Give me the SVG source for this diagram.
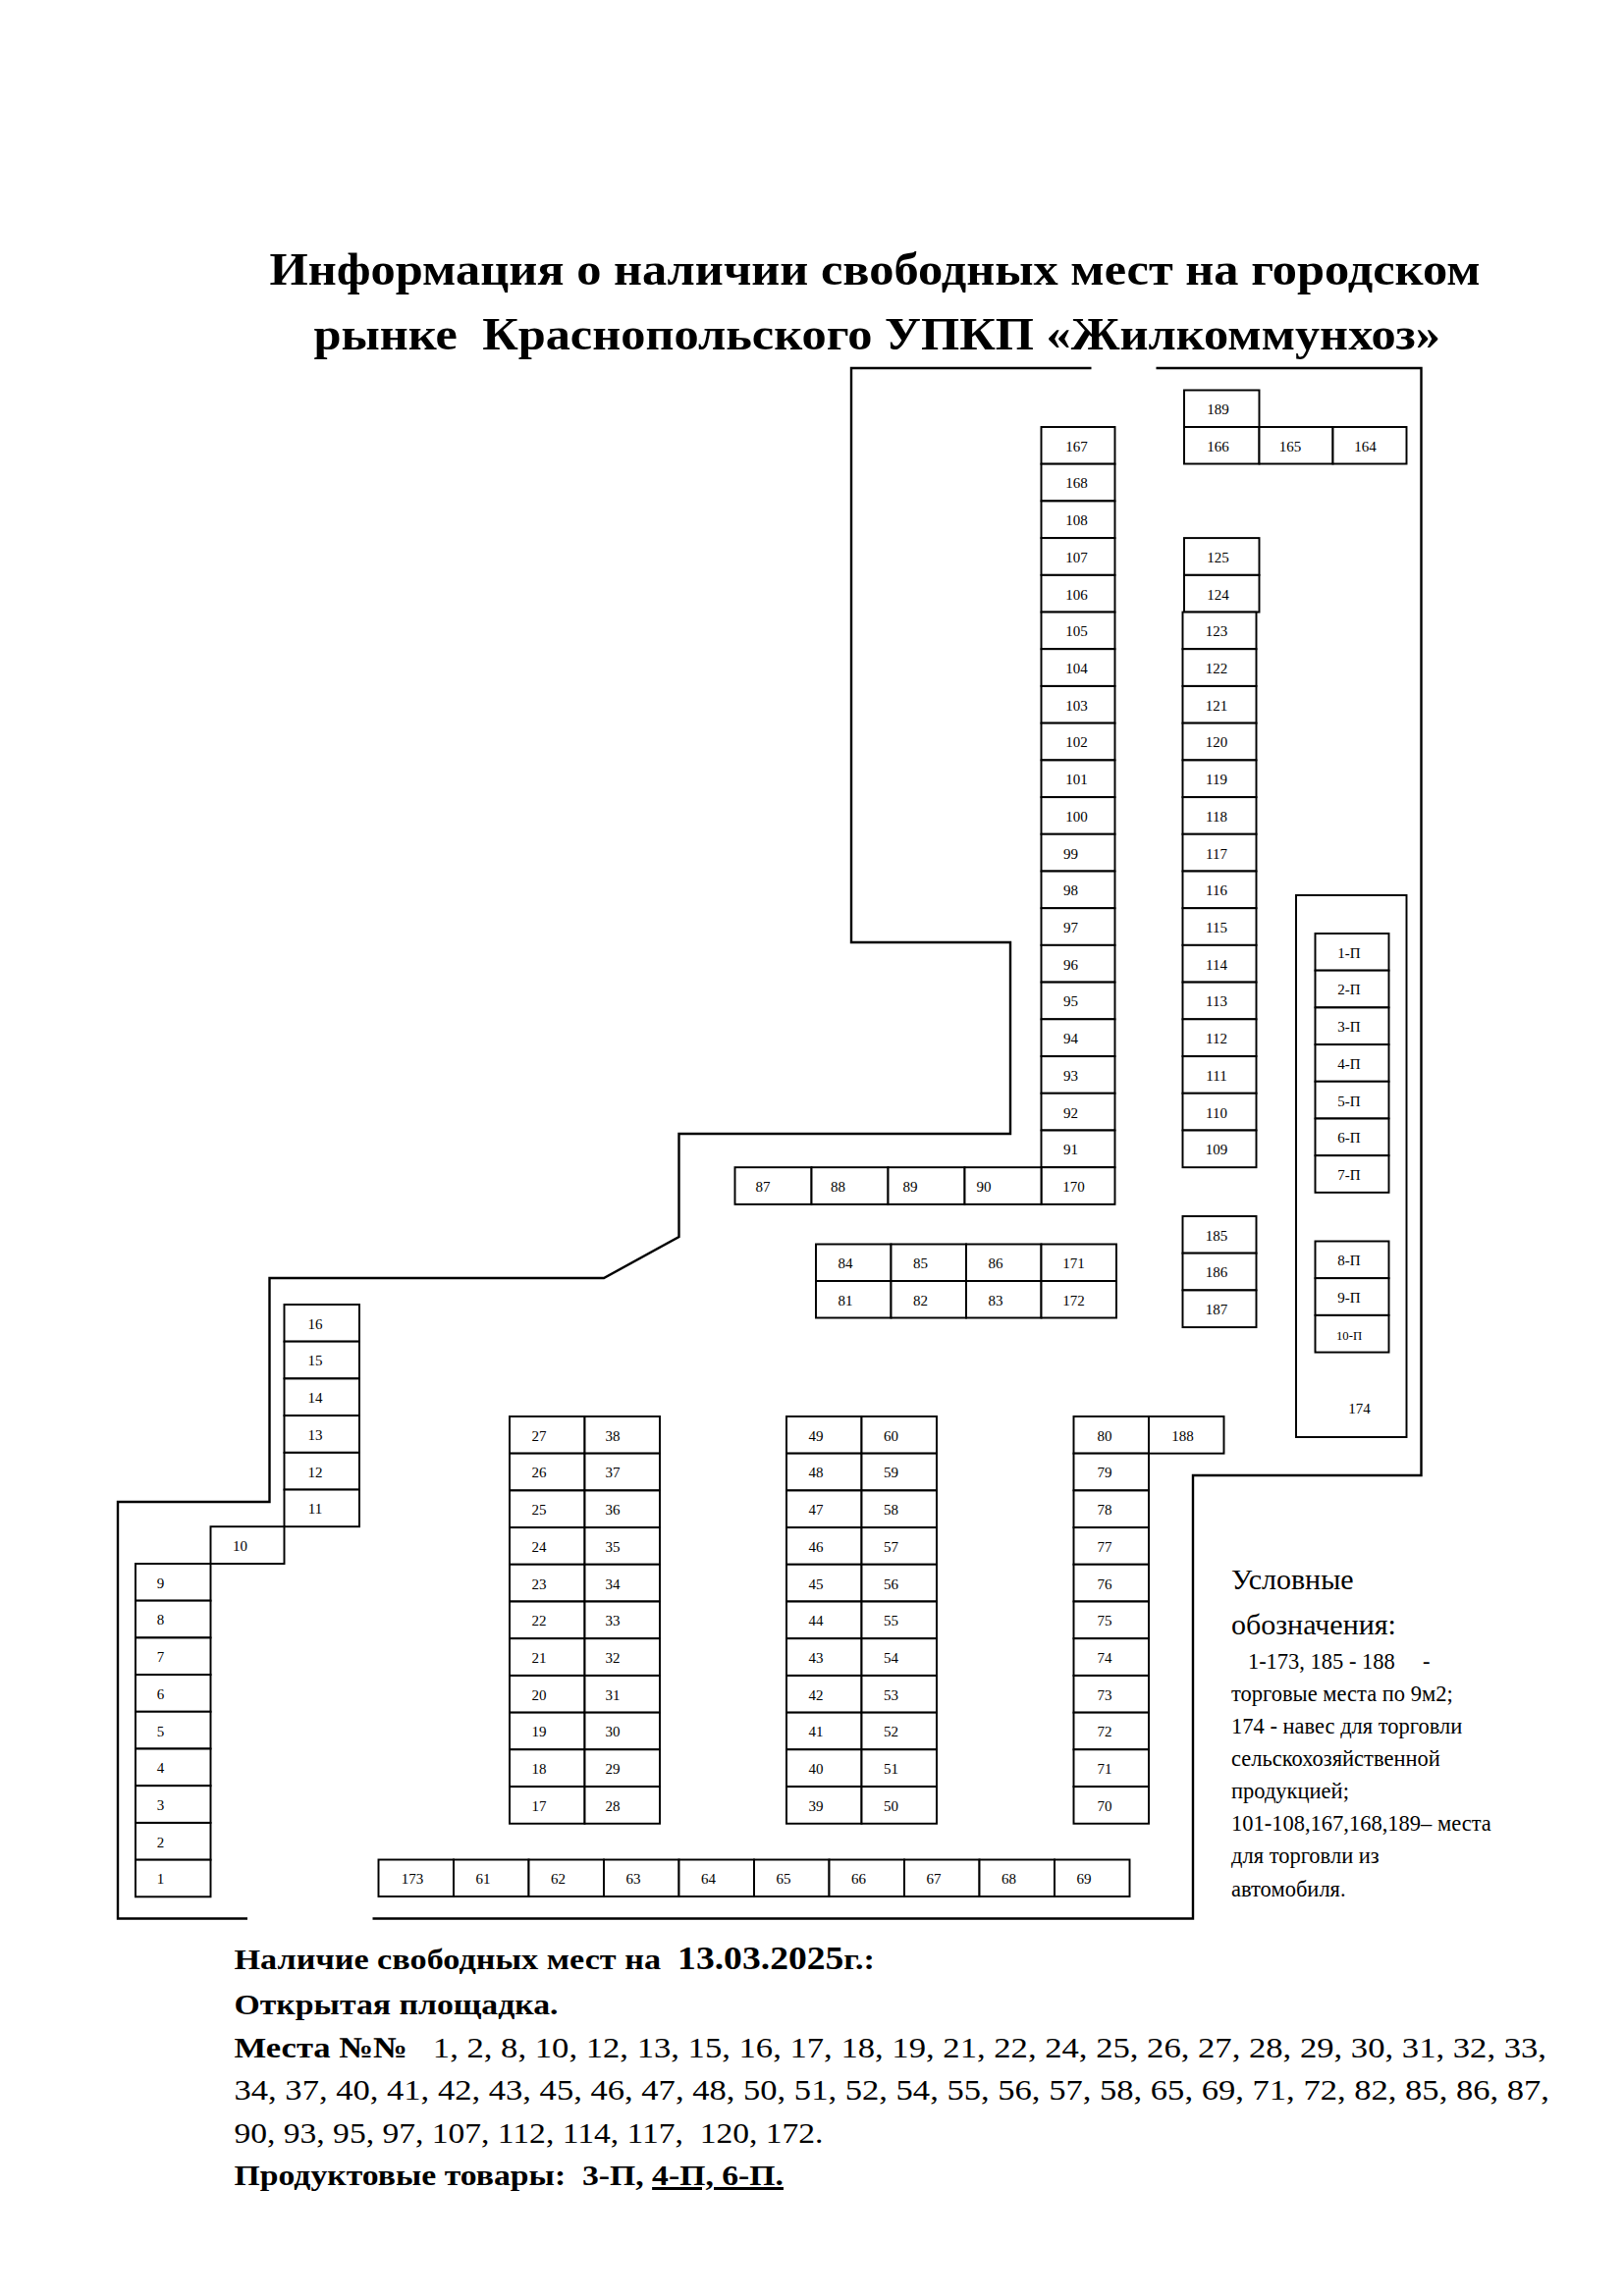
<svg xmlns="http://www.w3.org/2000/svg" width="1654" height="2339" viewBox="0 0 1654 2339">
<style>
rect{fill:#fff;stroke:#000;stroke-width:1.3}
.b{fill:none;stroke:#000;stroke-width:1.6}
text{font-family:"Liberation Serif",serif;fill:#000}
.t{font-size:10px;text-anchor:middle}
.h{font-size:31px;font-weight:bold}
.l{font-size:15px}
.p{font-size:20px}
</style>
<rect x="0" y="0" width="1654" height="2339" style="stroke:none"/>
<g transform="scale(1.5)">
<g id="title"><text class="h" x="183" y="193" textLength="822" lengthAdjust="spacingAndGlyphs">Информация о наличии свободных мест на городском</text><text class="h" x="213" y="237" textLength="765" lengthAdjust="spacingAndGlyphs" xml:space="preserve">рынке  Краснопольского УПКП «Жилкоммунхоз»</text></g>
<g id="boundary">
<polyline class="b" points="741,250 578,250 578,640 686,640 686,770 461,770 461,840 410,868 183,868 183,1020 80,1020 80,1303 168,1303"/>
<polyline class="b" points="253,1303 810,1303 810,1002 965,1002 965,250 785,250"/>
<rect x="880" y="608" width="75" height="368" style="fill:none"/>
<text class="t" x="923" y="960">174</text>
</g>
<g id="colA">
<g id="n167"><rect x="707" y="290" width="50" height="25.1"/><text class="t" x="731" y="306.5">167</text></g>
<g id="n168"><rect x="707" y="315.1" width="50" height="25.1"/><text class="t" x="731" y="331.6">168</text></g>
<g id="n108"><rect x="707" y="340.3" width="50" height="25.1"/><text class="t" x="731" y="356.8">108</text></g>
<g id="n107"><rect x="707" y="365.4" width="50" height="25.1"/><text class="t" x="731" y="381.9">107</text></g>
<g id="n106"><rect x="707" y="390.6" width="50" height="25.1"/><text class="t" x="731" y="407.1">106</text></g>
<g id="n105"><rect x="707" y="415.7" width="50" height="25.1"/><text class="t" x="731" y="432.2">105</text></g>
<g id="n104"><rect x="707" y="440.8" width="50" height="25.1"/><text class="t" x="731" y="457.3">104</text></g>
<g id="n103"><rect x="707" y="466" width="50" height="25.1"/><text class="t" x="731" y="482.5">103</text></g>
<g id="n102"><rect x="707" y="491.1" width="50" height="25.1"/><text class="t" x="731" y="507.6">102</text></g>
<g id="n101"><rect x="707" y="516.3" width="50" height="25.1"/><text class="t" x="731" y="532.8">101</text></g>
<g id="n100"><rect x="707" y="541.4" width="50" height="25.1"/><text class="t" x="731" y="557.9">100</text></g>
<g id="n99"><rect x="707" y="566.5" width="50" height="25.1"/><text class="t" x="727" y="583">99</text></g>
<g id="n98"><rect x="707" y="591.7" width="50" height="25.1"/><text class="t" x="727" y="608.2">98</text></g>
<g id="n97"><rect x="707" y="616.8" width="50" height="25.1"/><text class="t" x="727" y="633.3">97</text></g>
<g id="n96"><rect x="707" y="641.9" width="50" height="25.1"/><text class="t" x="727" y="658.4">96</text></g>
<g id="n95"><rect x="707" y="667.1" width="50" height="25.1"/><text class="t" x="727" y="683.6">95</text></g>
<g id="n94"><rect x="707" y="692.2" width="50" height="25.1"/><text class="t" x="727" y="708.7">94</text></g>
<g id="n93"><rect x="707" y="717.4" width="50" height="25.1"/><text class="t" x="727" y="733.9">93</text></g>
<g id="n92"><rect x="707" y="742.5" width="50" height="25.1"/><text class="t" x="727" y="759">92</text></g>
<g id="n91"><rect x="707" y="767.7" width="50" height="25.1"/><text class="t" x="727" y="784.2">91</text></g>
<g id="n170"><rect x="707" y="792.8" width="50" height="25.1"/><text class="t" x="729" y="809.3">170</text></g>
<g id="n87"><rect x="499" y="792.8" width="52" height="25.1"/><text class="t" x="518" y="809.3">87</text></g>
<g id="n88"><rect x="551" y="792.8" width="52" height="25.1"/><text class="t" x="569" y="809.3">88</text></g>
<g id="n89"><rect x="603" y="792.8" width="52" height="25.1"/><text class="t" x="618" y="809.3">89</text></g>
<g id="n90"><rect x="655" y="792.8" width="52" height="25.1"/><text class="t" x="668" y="809.3">90</text></g>
</g>
<g id="colB">
<g id="n189"><rect x="804" y="265" width="51" height="25"/><text class="t" x="827" y="281.5">189</text></g>
<g id="n166"><rect x="804" y="290" width="51" height="25"/><text class="t" x="827" y="306.5">166</text></g>
<g id="n165"><rect x="855" y="290" width="50" height="25"/><text class="t" x="876" y="306.5">165</text></g>
<g id="n164"><rect x="905" y="290" width="50" height="25"/><text class="t" x="927" y="306.5">164</text></g>
<g id="n125"><rect x="804" y="365.4" width="51" height="25.1"/><text class="t" x="827" y="381.9">125</text></g>
<g id="n124"><rect x="804" y="390.6" width="51" height="25.1"/><text class="t" x="827" y="407.1">124</text></g>
<g id="n123"><rect x="803" y="415.7" width="50" height="25.1"/><text class="t" x="826" y="432.2">123</text></g>
<g id="n122"><rect x="803" y="440.8" width="50" height="25.1"/><text class="t" x="826" y="457.3">122</text></g>
<g id="n121"><rect x="803" y="466" width="50" height="25.1"/><text class="t" x="826" y="482.5">121</text></g>
<g id="n120"><rect x="803" y="491.1" width="50" height="25.1"/><text class="t" x="826" y="507.6">120</text></g>
<g id="n119"><rect x="803" y="516.3" width="50" height="25.1"/><text class="t" x="826" y="532.8">119</text></g>
<g id="n118"><rect x="803" y="541.4" width="50" height="25.1"/><text class="t" x="826" y="557.9">118</text></g>
<g id="n117"><rect x="803" y="566.5" width="50" height="25.1"/><text class="t" x="826" y="583">117</text></g>
<g id="n116"><rect x="803" y="591.7" width="50" height="25.1"/><text class="t" x="826" y="608.2">116</text></g>
<g id="n115"><rect x="803" y="616.8" width="50" height="25.1"/><text class="t" x="826" y="633.3">115</text></g>
<g id="n114"><rect x="803" y="641.9" width="50" height="25.1"/><text class="t" x="826" y="658.4">114</text></g>
<g id="n113"><rect x="803" y="667.1" width="50" height="25.1"/><text class="t" x="826" y="683.6">113</text></g>
<g id="n112"><rect x="803" y="692.2" width="50" height="25.1"/><text class="t" x="826" y="708.7">112</text></g>
<g id="n111"><rect x="803" y="717.4" width="50" height="25.1"/><text class="t" x="826" y="733.9">111</text></g>
<g id="n110"><rect x="803" y="742.5" width="50" height="25.1"/><text class="t" x="826" y="759">110</text></g>
<g id="n109"><rect x="803" y="767.7" width="50" height="25.1"/><text class="t" x="826" y="784.2">109</text></g>
<g id="n185"><rect x="803" y="826" width="50" height="25.1"/><text class="t" x="826" y="842.5">185</text></g>
<g id="n186"><rect x="803" y="851.1" width="50" height="25.1"/><text class="t" x="826" y="867.6">186</text></g>
<g id="n187"><rect x="803" y="876.3" width="50" height="25.1"/><text class="t" x="826" y="892.8">187</text></g>
</g>
<g id="block84">
<g id="n84"><rect x="554" y="845" width="51" height="25"/><text class="t" x="574" y="861.5">84</text></g>
<g id="n85"><rect x="605" y="845" width="51" height="25"/><text class="t" x="625" y="861.5">85</text></g>
<g id="n86"><rect x="656" y="845" width="51" height="25"/><text class="t" x="676" y="861.5">86</text></g>
<g id="n171"><rect x="707" y="845" width="51" height="25"/><text class="t" x="729" y="861.5">171</text></g>
<g id="n81"><rect x="554" y="870" width="51" height="25"/><text class="t" x="574" y="886.5">81</text></g>
<g id="n82"><rect x="605" y="870" width="51" height="25"/><text class="t" x="625" y="886.5">82</text></g>
<g id="n83"><rect x="656" y="870" width="51" height="25"/><text class="t" x="676" y="886.5">83</text></g>
<g id="n172"><rect x="707" y="870" width="51" height="25"/><text class="t" x="729" y="886.5">172</text></g>
</g>
<g id="blockP">
<g id="p1"><rect x="893" y="634" width="50" height="25.1"/><text class="t" x="916" y="650.5">1-П</text></g>
<g id="p2"><rect x="893" y="659.1" width="50" height="25.1"/><text class="t" x="916" y="675.6">2-П</text></g>
<g id="p3"><rect x="893" y="684.3" width="50" height="25.1"/><text class="t" x="916" y="700.8">3-П</text></g>
<g id="p4"><rect x="893" y="709.4" width="50" height="25.1"/><text class="t" x="916" y="725.9">4-П</text></g>
<g id="p5"><rect x="893" y="734.5" width="50" height="25.1"/><text class="t" x="916" y="751">5-П</text></g>
<g id="p6"><rect x="893" y="759.7" width="50" height="25.1"/><text class="t" x="916" y="776.2">6-П</text></g>
<g id="p7"><rect x="893" y="784.8" width="50" height="25.1"/><text class="t" x="916" y="801.3">7-П</text></g>
<g id="p8"><rect x="893" y="843" width="50" height="25.1"/><text class="t" x="916" y="859.5">8-П</text></g>
<g id="p9"><rect x="893" y="868.1" width="50" height="25.1"/><text class="t" x="916" y="884.6">9-П</text></g>
<g id="p10"><rect x="893" y="893.3" width="50" height="25.1"/><text class="t" x="916" y="909.8" style="font-size:8.5px">10-П</text></g>
</g>
<g id="colLeft">
<g id="n16"><rect x="193" y="886" width="51" height="25.1"/><text class="t" x="214" y="902.5">16</text></g>
<g id="n15"><rect x="193" y="911.1" width="51" height="25.1"/><text class="t" x="214" y="927.6">15</text></g>
<g id="n14"><rect x="193" y="936.3" width="51" height="25.1"/><text class="t" x="214" y="952.8">14</text></g>
<g id="n13"><rect x="193" y="961.4" width="51" height="25.1"/><text class="t" x="214" y="977.9">13</text></g>
<g id="n12"><rect x="193" y="986.6" width="51" height="25.1"/><text class="t" x="214" y="1003.1">12</text></g>
<g id="n11"><rect x="193" y="1011.7" width="51" height="25.1"/><text class="t" x="214" y="1028.2">11</text></g>
<g id="n10"><rect x="143" y="1036.8" width="50" height="25.2"/><text class="t" x="163" y="1053.3">10</text></g>
<g id="n9"><rect x="92" y="1062" width="51" height="25.1"/><text class="t" x="109" y="1078.5">9</text></g>
<g id="n8"><rect x="92" y="1087.1" width="51" height="25.1"/><text class="t" x="109" y="1103.6">8</text></g>
<g id="n7"><rect x="92" y="1112.3" width="51" height="25.1"/><text class="t" x="109" y="1128.8">7</text></g>
<g id="n6"><rect x="92" y="1137.4" width="51" height="25.1"/><text class="t" x="109" y="1153.9">6</text></g>
<g id="n5"><rect x="92" y="1162.5" width="51" height="25.1"/><text class="t" x="109" y="1179">5</text></g>
<g id="n4"><rect x="92" y="1187.7" width="51" height="25.1"/><text class="t" x="109" y="1204.2">4</text></g>
<g id="n3"><rect x="92" y="1212.8" width="51" height="25.1"/><text class="t" x="109" y="1229.3">3</text></g>
<g id="n2"><rect x="92" y="1238" width="51" height="25.1"/><text class="t" x="109" y="1254.5">2</text></g>
<g id="n1"><rect x="92" y="1263.1" width="51" height="25.1"/><text class="t" x="109" y="1279.6">1</text></g>
</g>
<g id="block27">
<g><rect x="346" y="962" width="51" height="25.1"/><text class="t" x="366" y="978.5">27</text></g>
<g><rect x="346" y="987.1" width="51" height="25.1"/><text class="t" x="366" y="1003.6">26</text></g>
<g><rect x="346" y="1012.3" width="51" height="25.1"/><text class="t" x="366" y="1028.8">25</text></g>
<g><rect x="346" y="1037.4" width="51" height="25.1"/><text class="t" x="366" y="1053.9">24</text></g>
<g><rect x="346" y="1062.5" width="51" height="25.1"/><text class="t" x="366" y="1079">23</text></g>
<g><rect x="346" y="1087.7" width="51" height="25.1"/><text class="t" x="366" y="1104.2">22</text></g>
<g><rect x="346" y="1112.8" width="51" height="25.1"/><text class="t" x="366" y="1129.3">21</text></g>
<g><rect x="346" y="1138" width="51" height="25.1"/><text class="t" x="366" y="1154.5">20</text></g>
<g><rect x="346" y="1163.1" width="51" height="25.1"/><text class="t" x="366" y="1179.6">19</text></g>
<g><rect x="346" y="1188.2" width="51" height="25.1"/><text class="t" x="366" y="1204.7">18</text></g>
<g><rect x="346" y="1213.4" width="51" height="25.1"/><text class="t" x="366" y="1229.9">17</text></g>
<g><rect x="397" y="962" width="51" height="25.1"/><text class="t" x="416" y="978.5">38</text></g>
<g><rect x="397" y="987.1" width="51" height="25.1"/><text class="t" x="416" y="1003.6">37</text></g>
<g><rect x="397" y="1012.3" width="51" height="25.1"/><text class="t" x="416" y="1028.8">36</text></g>
<g><rect x="397" y="1037.4" width="51" height="25.1"/><text class="t" x="416" y="1053.9">35</text></g>
<g><rect x="397" y="1062.5" width="51" height="25.1"/><text class="t" x="416" y="1079">34</text></g>
<g><rect x="397" y="1087.7" width="51" height="25.1"/><text class="t" x="416" y="1104.2">33</text></g>
<g><rect x="397" y="1112.8" width="51" height="25.1"/><text class="t" x="416" y="1129.3">32</text></g>
<g><rect x="397" y="1138" width="51" height="25.1"/><text class="t" x="416" y="1154.5">31</text></g>
<g><rect x="397" y="1163.1" width="51" height="25.1"/><text class="t" x="416" y="1179.6">30</text></g>
<g><rect x="397" y="1188.2" width="51" height="25.1"/><text class="t" x="416" y="1204.7">29</text></g>
<g><rect x="397" y="1213.4" width="51" height="25.1"/><text class="t" x="416" y="1229.9">28</text></g>
</g>
<g id="block49">
<g><rect x="534" y="962" width="51" height="25.1"/><text class="t" x="554" y="978.5">49</text></g>
<g><rect x="534" y="987.1" width="51" height="25.1"/><text class="t" x="554" y="1003.6">48</text></g>
<g><rect x="534" y="1012.3" width="51" height="25.1"/><text class="t" x="554" y="1028.8">47</text></g>
<g><rect x="534" y="1037.4" width="51" height="25.1"/><text class="t" x="554" y="1053.9">46</text></g>
<g><rect x="534" y="1062.5" width="51" height="25.1"/><text class="t" x="554" y="1079">45</text></g>
<g><rect x="534" y="1087.7" width="51" height="25.1"/><text class="t" x="554" y="1104.2">44</text></g>
<g><rect x="534" y="1112.8" width="51" height="25.1"/><text class="t" x="554" y="1129.3">43</text></g>
<g><rect x="534" y="1138" width="51" height="25.1"/><text class="t" x="554" y="1154.5">42</text></g>
<g><rect x="534" y="1163.1" width="51" height="25.1"/><text class="t" x="554" y="1179.6">41</text></g>
<g><rect x="534" y="1188.2" width="51" height="25.1"/><text class="t" x="554" y="1204.7">40</text></g>
<g><rect x="534" y="1213.4" width="51" height="25.1"/><text class="t" x="554" y="1229.9">39</text></g>
<g><rect x="585" y="962" width="51" height="25.1"/><text class="t" x="605" y="978.5">60</text></g>
<g><rect x="585" y="987.1" width="51" height="25.1"/><text class="t" x="605" y="1003.6">59</text></g>
<g><rect x="585" y="1012.3" width="51" height="25.1"/><text class="t" x="605" y="1028.8">58</text></g>
<g><rect x="585" y="1037.4" width="51" height="25.1"/><text class="t" x="605" y="1053.9">57</text></g>
<g><rect x="585" y="1062.5" width="51" height="25.1"/><text class="t" x="605" y="1079">56</text></g>
<g><rect x="585" y="1087.7" width="51" height="25.1"/><text class="t" x="605" y="1104.2">55</text></g>
<g><rect x="585" y="1112.8" width="51" height="25.1"/><text class="t" x="605" y="1129.3">54</text></g>
<g><rect x="585" y="1138" width="51" height="25.1"/><text class="t" x="605" y="1154.5">53</text></g>
<g><rect x="585" y="1163.1" width="51" height="25.1"/><text class="t" x="605" y="1179.6">52</text></g>
<g><rect x="585" y="1188.2" width="51" height="25.1"/><text class="t" x="605" y="1204.7">51</text></g>
<g><rect x="585" y="1213.4" width="51" height="25.1"/><text class="t" x="605" y="1229.9">50</text></g>
</g>
<g id="block80">
<g><rect x="729" y="962" width="51" height="25.1"/><text class="t" x="750" y="978.5">80</text></g>
<g><rect x="780" y="962" width="51" height="25.1"/><text class="t" x="803" y="978.5">188</text></g>
<g><rect x="729" y="987.1" width="51" height="25.1"/><text class="t" x="750" y="1003.6">79</text></g>
<g><rect x="729" y="1012.3" width="51" height="25.1"/><text class="t" x="750" y="1028.8">78</text></g>
<g><rect x="729" y="1037.4" width="51" height="25.1"/><text class="t" x="750" y="1053.9">77</text></g>
<g><rect x="729" y="1062.5" width="51" height="25.1"/><text class="t" x="750" y="1079">76</text></g>
<g><rect x="729" y="1087.7" width="51" height="25.1"/><text class="t" x="750" y="1104.2">75</text></g>
<g><rect x="729" y="1112.8" width="51" height="25.1"/><text class="t" x="750" y="1129.3">74</text></g>
<g><rect x="729" y="1138" width="51" height="25.1"/><text class="t" x="750" y="1154.5">73</text></g>
<g><rect x="729" y="1163.1" width="51" height="25.1"/><text class="t" x="750" y="1179.6">72</text></g>
<g><rect x="729" y="1188.2" width="51" height="25.1"/><text class="t" x="750" y="1204.7">71</text></g>
<g><rect x="729" y="1213.4" width="51" height="25.1"/><text class="t" x="750" y="1229.9">70</text></g>
</g>
<g id="rowBottom">
<g><rect x="257" y="1263" width="51" height="25"/><text class="t" x="280" y="1279.5">173</text></g>
<g><rect x="308" y="1263" width="51" height="25"/><text class="t" x="328" y="1279.5">61</text></g>
<g><rect x="359" y="1263" width="51" height="25"/><text class="t" x="379" y="1279.5">62</text></g>
<g><rect x="410" y="1263" width="51" height="25"/><text class="t" x="430" y="1279.5">63</text></g>
<g><rect x="461" y="1263" width="51" height="25"/><text class="t" x="481" y="1279.5">64</text></g>
<g><rect x="512" y="1263" width="51" height="25"/><text class="t" x="532" y="1279.5">65</text></g>
<g><rect x="563" y="1263" width="51" height="25"/><text class="t" x="583" y="1279.5">66</text></g>
<g><rect x="614" y="1263" width="51" height="25"/><text class="t" x="634" y="1279.5">67</text></g>
<g><rect x="665" y="1263" width="51" height="25"/><text class="t" x="685" y="1279.5">68</text></g>
<g><rect x="716" y="1263" width="51" height="25"/><text class="t" x="736" y="1279.5">69</text></g>
</g>
<g id="legend">
<text x="836" y="1079" style="font-size:20px">Условные</text>
<text x="836" y="1110" style="font-size:20px">обозначения:</text>
<text class="l" x="836" y="1133" xml:space="preserve">   1-173, 185 - 188     -</text>
<text class="l" x="836" y="1155">торговые места по  9м2;</text>
<text class="l" x="836" y="1177">174  - навес для торговли</text>
<text class="l" x="836" y="1199">сельскохозяйственной</text>
<text class="l" x="836" y="1221">продукцией;</text>
<text class="l" x="836" y="1243">101-108,167,168,189– места</text>
<text class="l" x="836" y="1265">для торговли из</text>
<text class="l" x="836" y="1288">автомобиля.</text>
</g>
<g id="info">
<text class="p" x="159" y="1337" font-weight="bold" textLength="435" lengthAdjust="spacingAndGlyphs" xml:space="preserve">Наличие свободных мест на  <tspan style="font-size:22px">13.03.2025</tspan>г.:</text>
<text class="p" x="159" y="1368" font-weight="bold" textLength="220" lengthAdjust="spacingAndGlyphs">Открытая площадка.</text>
<text class="p" x="159" y="1397" textLength="891" lengthAdjust="spacingAndGlyphs" xml:space="preserve"><tspan font-weight="bold">Места №№</tspan>   1, 2, 8, 10, 12, 13, 15, 16, 17, 18, 19, 21, 22, 24, 25, 26, 27, 28, 29, 30, 31, 32, 33,</text>
<text class="p" x="159" y="1426" textLength="893" lengthAdjust="spacingAndGlyphs">34, 37, 40, 41, 42, 43, 45, 46, 47, 48, 50, 51, 52, 54, 55, 56, 57, 58, 65, 69, 71, 72, 82, 85, 86, 87,</text>
<text class="p" x="159" y="1455" textLength="400" lengthAdjust="spacingAndGlyphs" xml:space="preserve">90, 93, 95, 97, 107, 112, 114, 117,  120, 172.</text>
<text class="p" x="159" y="1484" font-weight="bold" textLength="373" lengthAdjust="spacingAndGlyphs" xml:space="preserve">Продуктовые товары:  3-П, <tspan text-decoration="underline">4-П, 6-П.</tspan></text>
</g>
</g>
</svg>
